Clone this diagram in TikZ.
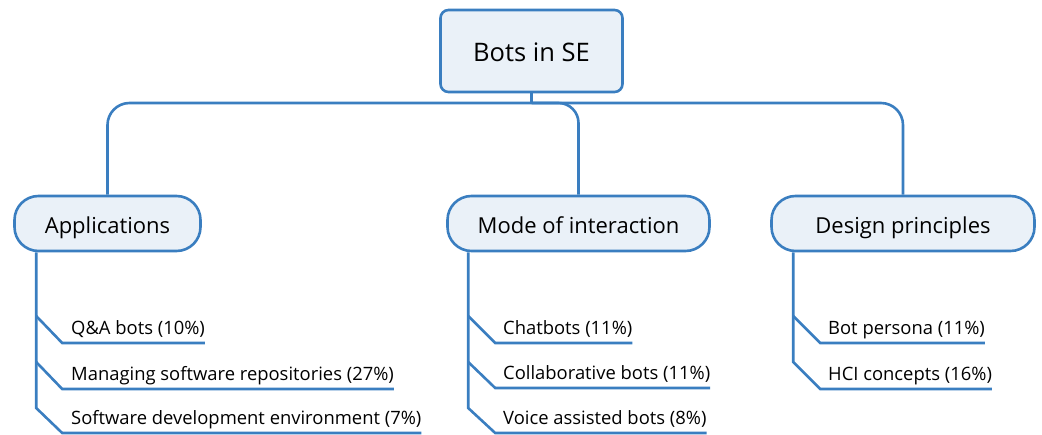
\documentclass[tikz,border=0pt]{standalone}
\usepackage{fontspec}
\setmainfont{Open Sans}
\definecolor{linkblue}{RGB}{58,126,192}
\definecolor{boxfill}{RGB}{234,241,248}
\begin{document}
\begin{tikzpicture}[x=1pt,y=-1pt,
  link/.style={draw=linkblue, line width=2.6pt},
  rootbox/.style={draw=linkblue, fill=boxfill, line width=2.6pt, rounded corners=8pt,
    minimum width=182pt, minimum height=82pt, inner sep=0pt,
    text height=20pt, text depth=0pt, font=\fontsize{25.5}{30}\selectfont},
  catbox/.style={draw=linkblue, fill=boxfill, line width=2.6pt, rounded corners=24pt,
    minimum height=55pt, inner sep=0pt, text height=19pt, text depth=0pt,
    font=\fontsize{22}{26}\selectfont},
  leaf/.style={inner sep=0pt, outer sep=0pt, text depth=9pt, anchor=south west,
    font=\fontsize{18.4}{22}\selectfont}]
\useasboundingbox (0,0) rectangle (1042,434);

% top of the tree
\node[rootbox] (root) at (531.5,51) {Bots in SE};
\node[catbox, minimum width=186pt] (app) at (107.5,223.5) {Applications};
\node[catbox, minimum width=262pt] (mode) at (578.5,223.5) {Mode of interaction};
\node[catbox, minimum width=263pt] (design) at (903,223.5) {Design principles};

\coordinate (bar) at (0,103);
\draw[link] (root.south) -- (root.south |- bar);
\draw[link, rounded corners=22pt] (app.north) |- (bar -| design.north) -- (design.north);
\draw[link, rounded corners=20pt] (root.south |- bar) -| (mode.north);

% Applications
\coordinate (as) at ([xshift=23pt]app.south west);
\coordinate (a1) at (as |- 0,316);
\coordinate (a2) at (as |- 0,362);
\coordinate (a3) at (as |- 0,408);
\node[leaf] (la1) at ([shift={(26,27)}]a1) {\hspace{9pt}Q\&A bots (10\%)\hspace{5pt}};
\node[leaf] (la2) at ([shift={(26,27)}]a2) {\hspace{9pt}Managing software repositories (27\%)\hspace{5pt}};
\node[leaf] (la3) at ([shift={(26,25)}]a3) {\hspace{9pt}Software development environment (7\%)\hspace{15pt}};
\draw[link] (as) -- (a3) -- (la3.south west) -- (la3.south east);
\draw[link] (a1) -- (la1.south west) -- (la1.south east);
\draw[link] (a2) -- (la2.south west) -- (la2.south east);

% Mode of interaction
\coordinate (ms) at ([xshift=22pt]mode.south west);
\coordinate (m1) at (ms |- 0,316);
\coordinate (m2) at (ms |- 0,362);
\coordinate (m3) at (ms |- 0,408);
\node[leaf] (lm1) at ([shift={(27,27)}]m1) {\hspace{8pt}Chatbots (11\%)\hspace{5pt}};
\node[leaf] (lm2) at ([shift={(27,26)}]m2) {\hspace{8pt}Collaborative bots (11\%)\hspace{6pt}};
\node[leaf] (lm3) at ([shift={(27,25)}]m3) {\hspace{8pt}Voice assisted bots (8\%)\hspace{5pt}};
\draw[link] (ms) -- (m3) -- (lm3.south west) -- (lm3.south east);
\draw[link] (m1) -- (lm1.south west) -- (lm1.south east);
\draw[link] (m2) -- (lm2.south west) -- (lm2.south east);

% Design principles
\coordinate (ds) at ([xshift=23pt]design.south west);
\coordinate (d1) at (ds |- 0,316);
\coordinate (d2) at (ds |- 0,362);
\node[leaf] (ld1) at ([shift={(27,27)}]d1) {\hspace{8pt}Bot persona (11\%)\hspace{5pt}};
\node[leaf] (ld2) at ([shift={(27,27)}]d2) {\hspace{8pt}HCI concepts (16\%)\hspace{5pt}};
\draw[link] (ds) -- (d2) -- (ld2.south west) -- (ld2.south east);
\draw[link] (d1) -- (ld1.south west) -- (ld1.south east);
\end{tikzpicture}
\end{document}
